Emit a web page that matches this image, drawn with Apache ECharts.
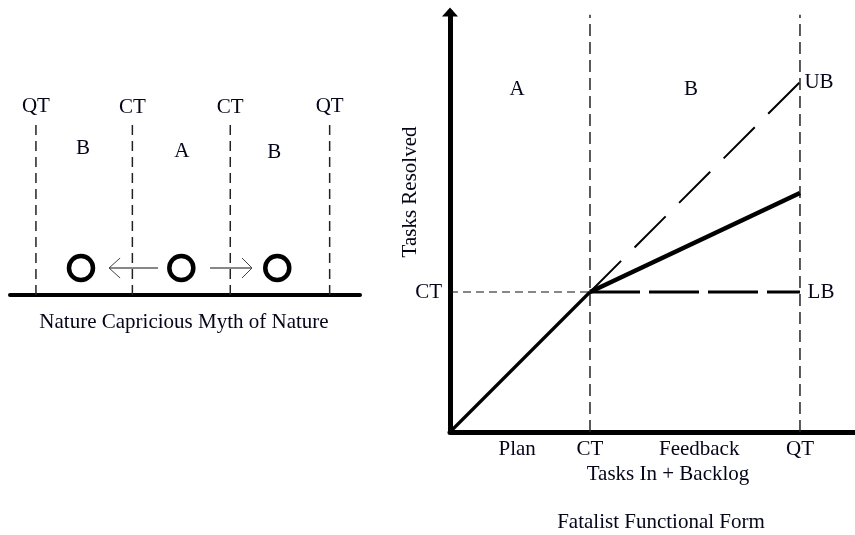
<!DOCTYPE html>
<html>
<head>
<meta charset="utf-8">
<script src="https://cdn.jsdelivr.net/npm/echarts@6/dist/echarts.min.js"></script>
<style>
html,body{margin:0;padding:0;background:#fff;}
#chart{width:855px;height:535px;}
</style>
</head>
<body>
<div id="chart"></div>
<script>
// ---------- Left diagram: "Nature Capricious Myth of Nature" ----------
const leftDividerX = [-2.97, -1, 1, 3.03];
const leftDividerLabels = ['QT', 'CT', 'CT', 'QT'];
const leftDividerLabelY = [18.9, 18.8, 18.8, 18.9];
const leftDividerTop = 17.2;
const leftRegionX = [-2.01, 0.01, 1.9];
const leftRegionY = [14.7, 14.4, 14.3];
const leftRegionLabels = ['B', 'A', 'B'];
const ballX = [-2.05, 0, 1.96];
const ballY = 2.7;
const arrowLeft = [[-0.476, 2.7], [-1.477, 2.7]];
const arrowLeftHead = [[-1.25, 3.7], [-1.477, 2.7], [-1.25, 1.7]];
const arrowRight = [[0.586, 2.7], [1.444, 2.7]];
const arrowRightHead = [[1.24, 3.7], [1.444, 2.7], [1.24, 1.7]];

// ---------- Right diagram: "Fatalist Functional Form" ----------
const ctX = 10, qtX = 25, ctY = 10;
const resolvedLine = [[0, 0], [10, 10]];
const resolvedFeedback = [[10, 10], [25, 17.07]];
const upperBound = [[10, 10], [25, 25]];
const lowerBound = [[10, 10], [25, 10]];
const guideTop = 29.8;
const xTickValues = [4.8, 10, 17.8, 25];
const xTickLabels = ['Plan', 'CT', 'Feedback', 'QT'];
const yTickValues = [10];
const yTickLabels = ['CT'];
const regionLabels = ['A', 'B', 'UB', 'LB'];
const regionLabelPos = [[4.79, 24.5], [17.21, 24.43], [26.36, 24.93], [26.5, 9.93]];

const FONT = 'Liberation Serif';
const TXT = '#05051a';
const fontSize = 21;

const chart = echarts.init(document.getElementById('chart'), null, {renderer: 'canvas'});

function seg(name, data, grid, width, type, color) {
  return {
    name: name, type: 'line', xAxisIndex: grid, yAxisIndex: grid,
    data: data, symbol: 'none', silent: true, animation: false,
    lineStyle: {color: color || '#000', width: width, type: type || 'solid', cap: 'butt', opacity: 1},
    z: 3
  };
}
function textSeries(data, labels, grid) {
  return {
    type: 'scatter', xAxisIndex: grid, yAxisIndex: grid,
    data: data.map((d, i) => ({value: d, label: {formatter: labels[i]}})),
    symbolSize: 1, itemStyle: {color: 'rgba(0,0,0,0)', opacity: 1}, silent: true, animation: false,
    label: {show: true, position: 'inside', color: TXT, fontFamily: FONT, fontSize: fontSize,
            align: 'center', verticalAlign: 'middle', opacity: 1},
    z: 5
  };
}

const series = [];
// left
leftDividerX.forEach((x, i) => {
  series.push(seg('div' + i, [[x, 0], [x, leftDividerTop]], 1, 1.5, [10, 6], '#222'));
});
series.push(textSeries(leftDividerX.map((x, i) => [x, leftDividerLabelY[i]]), leftDividerLabels, 1));
series.push(textSeries(leftRegionX.map((x, i) => [x, leftRegionY[i]]), leftRegionLabels, 1));
series.push(seg('arrowL', arrowLeft, 1, 1, 'solid', '#111'));
series.push(seg('arrowLH', arrowLeftHead, 1, 1, 'solid', '#444'));
series.push(seg('arrowR', arrowRight, 1, 1, 'solid', '#111'));
series.push(seg('arrowRH', arrowRightHead, 1, 1, 'solid', '#444'));
series.push({
  type: 'scatter', xAxisIndex: 1, yAxisIndex: 1,
  data: ballX.map(x => [x, ballY]), symbol: 'circle', symbolSize: 24,
  itemStyle: {color: '#fff', borderColor: '#000', borderWidth: 4.5, opacity: 1},
  silent: true, animation: false, z: 6
});
// right
series.push(seg('ctV', [[ctX, 0], [ctX, guideTop]], 0, 1.5, [12, 6], '#222'));
series.push(seg('qtV', [[qtX, 0], [qtX, guideTop]], 0, 1.5, [12, 6], '#222'));
series.push(seg('ctH', [[0, ctY], [ctX, ctY]], 0, 1.2, [8, 5], '#111'));
series.push(seg('UB', upperBound, 0, 2, [44, 19], '#000'));
series.push(seg('LB', lowerBound, 0, 3, [50, 9], '#000'));
series.push(seg('plan', resolvedLine, 0, 3.2, 'solid', '#000'));
series.push(seg('feedback', resolvedFeedback, 0, 4.5, 'solid', '#000'));
series.push(textSeries(regionLabelPos, regionLabels, 0));

chart.setOption({
  backgroundColor: '#fff',
  animation: false,
  grid: [
    {left: 450, top: 12, width: 405, height: 420, containLabel: false},
    {left: 10, top: 100, width: 350, height: 195, containLabel: false}
  ],
  xAxis: [
    {
      type: 'value', gridIndex: 0, min: 0, max: 28.93,
      axisLine: {show: true, onZero: false, lineStyle: {color: '#000', width: 5}},
      axisTick: {show: false}, splitLine: {show: false},
      axisLabel: {
        show: true, customValues: xTickValues, margin: 7,
        formatter: v => xTickLabels[xTickValues.indexOf(v)] || '',
        color: TXT, fontFamily: FONT, fontSize: fontSize
      }
    },
    {
      type: 'value', gridIndex: 1, min: -3.5, max: 3.65,
      axisLine: {show: true, onZero: false, lineStyle: {color: '#000', width: 4}},
      axisTick: {show: false}, splitLine: {show: false}, axisLabel: {show: false}
    }
  ],
  yAxis: [
    {
      type: 'value', gridIndex: 0, min: 0, max: 30,
      axisLine: {show: true, onZero: false, symbol: ['none', 'triangle'], symbolSize: [16, 9],
                 lineStyle: {color: '#000', width: 5}},
      axisTick: {show: false}, splitLine: {show: false},
      axisLabel: {
        show: true, customValues: yTickValues, margin: 8,
        formatter: v => yTickLabels[yTickValues.indexOf(v)] || '',
        color: TXT, fontFamily: FONT, fontSize: fontSize
      }
    },
    {type: 'value', gridIndex: 1, min: 0, max: 19.5, show: false}
  ],
  graphic: [
    {type: 'text', x: 184, y: 322, style: {text: 'Nature Capricious Myth of Nature', fill: TXT,
      font: fontSize + 'px "' + FONT + '"', align: 'center', verticalAlign: 'middle'}},
    {type: 'text', x: 668, y: 474, style: {text: 'Tasks In + Backlog', fill: TXT,
      font: fontSize + 'px "' + FONT + '"', align: 'center', verticalAlign: 'middle'}},
    {type: 'text', x: 661, y: 522, style: {text: 'Fatalist Functional Form', fill: TXT,
      font: fontSize + 'px "' + FONT + '"', align: 'center', verticalAlign: 'middle'}},
    {type: 'text', x: 410, y: 192, rotation: Math.PI / 2, style: {text: 'Tasks Resolved', fill: TXT,
      font: fontSize + 'px "' + FONT + '"', align: 'center', verticalAlign: 'middle'}}
  ],
  series: series
});
</script>
</body>
</html>
